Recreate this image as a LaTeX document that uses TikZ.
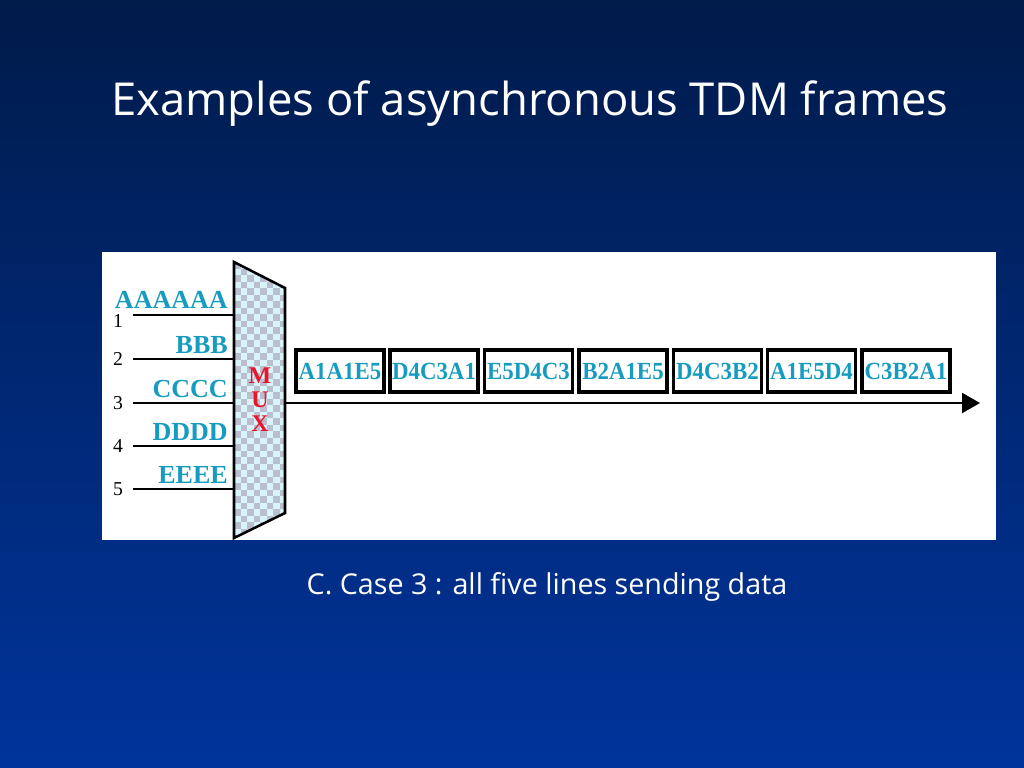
\documentclass[tikz,border=0pt]{standalone}
\usepackage{fontspec}
\setmainfont{Liberation Serif}
\newfontfamily\slidefont{Open Sans}
\newfontfamily\framefont[FakeStretch=0.93]{Liberation Serif}
\usetikzlibrary{arrows.meta}
\definecolor{slidetop}{RGB}{0,27,74}
\definecolor{slidebottom}{RGB}{0,52,156}
\definecolor{labelteal}{RGB}{22,156,192}
\definecolor{muxcyan}{RGB}{214,244,250}
\definecolor{muxgray}{RGB}{186,190,206}
\definecolor{muxred}{RGB}{235,20,40}

\begin{document}
\begin{tikzpicture}[x=0.025cm, y=0.025cm, line join=miter]
    \tikzstyle{line label}=[font=\bfseries\fontsize{18.5}{18.5}\selectfont, text=labelteal, anchor=base east, inner sep=0pt]
    \tikzstyle{line number}=[font=\fontsize{14}{14}\selectfont, inner sep=0pt]
    \tikzstyle{input line}=[draw=black, line width=1.6pt]
    \tikzstyle{frame}=[draw=black, line width=2.2pt, minimum width=2.2cm, minimum height=1.05cm, inner sep=0pt, font=\framefont\bfseries\fontsize{17.5}{17.5}\selectfont, text=labelteal]

    % Slide background
    \shade[top color=slidetop, bottom color=slidebottom] (0,0) rectangle (1024,-768);
    \useasboundingbox (0,0) rectangle (1024,-768);

    % Title
    \node[font=\slidefont\fontsize{32.3}{32.3}\selectfont, text=white] (title) at (530,-104) {Examples of asynchronous TDM frames};

    % White panel
    \fill[white] (102,-252) rectangle (996,-540);

    % Multiplexer
    \coordinate (M-tl) at (234,-262);
    \coordinate (M-tr) at (285,-288);
    \coordinate (M-br) at (285,-513);
    \coordinate (M-bl) at (234,-538);
    \begin{scope}
        \clip (M-tl) -- (M-tr) -- (M-br) -- (M-bl) -- cycle;
        \fill[muxcyan] (230,-258) rectangle (290,-542);
        \foreach \j in {0,...,43} {
            \pgfmathsetmacro\off{mod(\j,2)*6.5}
            \foreach \i in {0,...,4}
                \fill[muxgray] ({234+\off+13*\i},{-262-6.5*\j}) rectangle ++(6.5,-6.5);
        }
    \end{scope}
    \draw[line width=1.8pt] (M-tl) -- (M-tr) -- (M-br) -- (M-bl) -- cycle;
    \node[font=\bfseries\fontsize{17}{17}\selectfont, text=muxred, align=center, inner sep=0pt] (mux) at (260,-400) {M\\U\\X};

    % Input lines
    \coordinate (L-1) at (133,-315);
    \coordinate (L-2) at (133,-359);
    \coordinate (L-3) at (133,-403);
    \coordinate (L-4) at (133,-446);
    \coordinate (L-5) at (133,-489);
    \coordinate (I-1) at (234,-315);
    \coordinate (I-2) at (234,-359);
    \coordinate (I-3) at (234,-403);
    \coordinate (I-4) at (234,-446);
    \coordinate (I-5) at (234,-489);
    \draw[input line] (L-1) -- (I-1);
    \draw[input line] (L-2) -- (I-2);
    \draw[input line] (L-3) -- (I-3);
    \draw[input line] (L-4) -- (I-4);
    \draw[input line] (L-5) -- (I-5);

    % Line numbers
    \node[line number] (N-1) at (118,-321) {1};
    \node[line number] (N-2) at (118,-359) {2};
    \node[line number] (N-3) at (118,-403) {3};
    \node[line number] (N-4) at (118,-446) {4};
    \node[line number] (N-5) at (118,-489) {5};

    % Data on the lines
    \node[line label] (D-1) at (228,-308) {AAAAAA};
    \node[line label] (D-2) at (228,-353) {BBB};
    \node[line label] (D-3) at (228,-397) {CCCC};
    \node[line label] (D-4) at (228,-440) {DDDD};
    \node[line label] (D-5) at (228,-483) {EEEE};

    % Output link
    \coordinate (O-start) at (285,-403);
    \coordinate (O-end) at (980,-403);
    \draw[line width=1.5pt, -{Triangle[length=0.45cm, width=0.5cm]}] (O-start) -- (O-end);

    % Frames
    \node[frame] (F-1) at (340,-371) {A1A1E5};
    \node[frame] (F-2) at (434,-371) {D4C3A1};
    \node[frame] (F-3) at (528.5,-371) {E5D4C3};
    \node[frame] (F-4) at (623,-371) {B2A1E5};
    \node[frame] (F-5) at (717.5,-371) {D4C3B2};
    \node[frame] (F-6) at (811.5,-371) {A1E5D4};
    \node[frame] (F-7) at (906,-371) {C3B2A1};

    % Caption
    \node[font=\slidefont\fontsize{20.4}{20.4}\selectfont, text=white] (caption) at (547,-587) {C. Case 3 : all five lines sending data};

\end{tikzpicture}
\end{document}
